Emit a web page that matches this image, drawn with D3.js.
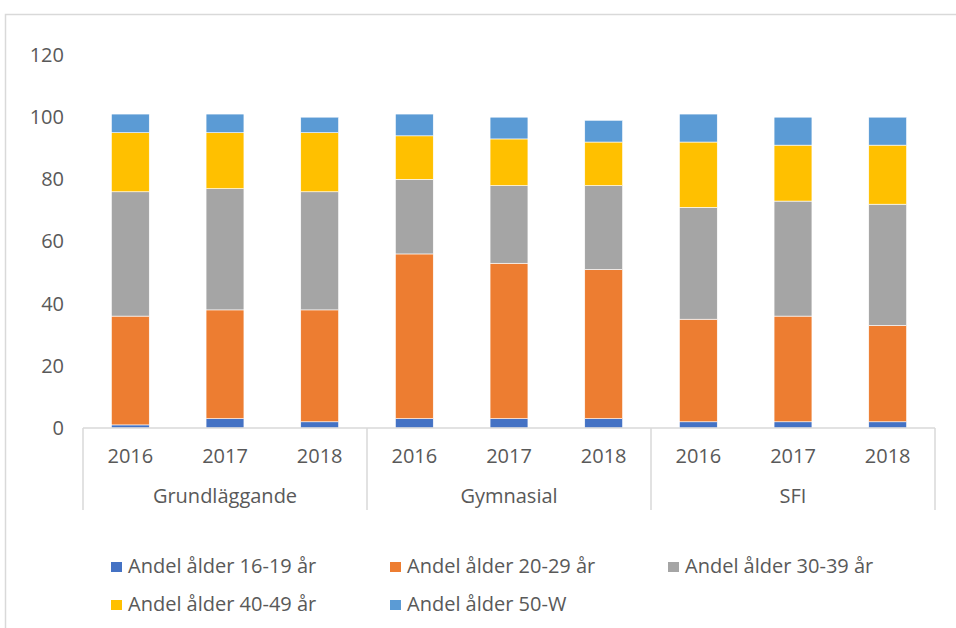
<!DOCTYPE html>
<html>
<head>
<meta charset="utf-8">
<script src="https://cdn.jsdelivr.net/npm/d3@7/dist/d3.min.js"></script>
<style>
  body { margin: 0; background: #fff; }
  svg { display: block; font-family: "Open Sans", "Liberation Sans", Arial, sans-serif; }
</style>
</head>
<body>
<div id="chart"></div>
<script>
const groups = ['Grundläggande', 'Gymnasial', 'SFI'];
const years = ['2016', '2017', '2018'];
const seriesNames = ['Andel ålder 16-19 år', 'Andel ålder 20-29 år', 'Andel ålder 30-39 år', 'Andel ålder 40-49 år', 'Andel ålder 50-W'];
const colors = ['#4472C4', '#ED7D31', '#A5A5A5', '#FFC000', '#5B9BD5'];
const yTicks = [0, 20, 40, 60, 80, 100, 120];

// one value per bar, order: Grundl 2016..2018, Gymn 2016..2018, SFI 2016..2018
const age16_19 = [1, 3, 2, 3, 3, 3, 2, 2, 2];
const age20_29 = [35, 35, 36, 53, 50, 48, 33, 34, 31];
const age30_39 = [40, 39, 38, 24, 25, 27, 36, 37, 39];
const age40_49 = [19, 18, 19, 14, 15, 14, 21, 18, 19];
const age50_W = [6, 6, 5, 7, 7, 7, 9, 9, 9];

const seriesValues = [age16_19, age20_29, age30_39, age40_49, age50_W];

const data = [];
groups.forEach((g, gi) => {
  years.forEach((y, yi) => {
    const i = gi * years.length + yi;
    const row = { key: g + '|' + y, group: g, year: y };
    seriesNames.forEach((s, si) => { row[s] = seriesValues[si][i]; });
    data.push(row);
  });
});

const width = 956, height = 628;
const margin = { left: 83, right: 21, top: 55, bottom: 200 };
const fontSize = '20px';
const textColor = '#595959';

const svg = d3.select('#chart').append('svg')
  .attr('width', width)
  .attr('height', height);

// outer frame
svg.append('rect')
  .attr('x', 5.5).attr('y', 14.5)
  .attr('width', 1000).attr('height', 1000)
  .attr('fill', 'none')
  .attr('stroke', '#D9D9D9')
  .attr('stroke-width', 1.5);

const x = d3.scaleBand()
  .domain(data.map(d => d.key))
  .range([margin.left, width - margin.right])
  .paddingInner(0.6)
  .paddingOuter(0.3);

const y = d3.scaleLinear()
  .domain([0, 120])
  .range([428, 55]);

const stack = d3.stack().keys(seriesNames);
const layers = stack(data);

svg.append('g')
  .selectAll('g')
  .data(layers)
  .join('g')
  .attr('fill', (d, i) => colors[i])
  .selectAll('rect')
  .data(d => d)
  .join('rect')
  .attr('x', d => x(d.data.key))
  .attr('y', d => y(d[1]))
  .attr('width', x.bandwidth())
  .attr('height', d => y(d[0]) - y(d[1]))
  .attr('stroke', '#fff')
  .attr('stroke-width', 0.6);

// y axis labels (no line)
const yAxis = svg.append('g')
  .attr('transform', 'translate(64,0)')
  .call(d3.axisLeft(y).tickValues(yTicks).tickSize(0).tickPadding(0));
yAxis.select('.domain').remove();
yAxis.selectAll('text')
  .attr('fill', textColor)
  .style('font-size', fontSize)
  .style('font-family', '"Open Sans", "Liberation Sans", Arial, sans-serif');

// x axis line
const x0 = margin.left, x1 = width - margin.right;
svg.append('line')
  .attr('x1', x0).attr('x2', x1)
  .attr('y1', y(0)).attr('y2', y(0))
  .attr('stroke', '#D9D9D9').attr('stroke-width', 1.5);

// group dividers
const groupWidth = (x1 - x0) / groups.length;
d3.range(groups.length + 1).forEach(i => {
  svg.append('line')
    .attr('x1', x0 + i * groupWidth).attr('x2', x0 + i * groupWidth)
    .attr('y1', y(0)).attr('y2', 510)
    .attr('stroke', '#D9D9D9').attr('stroke-width', 1.5);
});

// year labels
svg.append('g').selectAll('text')
  .data(data)
  .join('text')
  .attr('x', d => x(d.key) + x.bandwidth() / 2)
  .attr('y', 463)
  .attr('text-anchor', 'middle')
  .attr('fill', textColor)
  .style('font-size', fontSize)
  .text(d => d.year);

// group labels
svg.append('g').selectAll('text')
  .data(groups)
  .join('text')
  .attr('x', (d, i) => x0 + (i + 0.5) * groupWidth)
  .attr('y', 503)
  .attr('text-anchor', 'middle')
  .attr('fill', textColor)
  .style('font-size', fontSize)
  .text(d => d);

// legend
const legendPos = [
  [111, 567], [390, 567], [668, 567],
  [111, 605], [390, 605]
];
const legend = svg.append('g').selectAll('g')
  .data(seriesNames)
  .join('g')
  .attr('transform', (d, i) => `translate(${legendPos[i][0]},${legendPos[i][1]})`);
legend.append('rect')
  .attr('x', 0).attr('y', -5)
  .attr('width', 11).attr('height', 10)
  .attr('fill', (d, i) => colors[i]);
legend.append('text')
  .attr('x', 17).attr('y', 6)
  .attr('fill', textColor)
  .style('font-size', fontSize)
  .text(d => d);
</script>
</body>
</html>
